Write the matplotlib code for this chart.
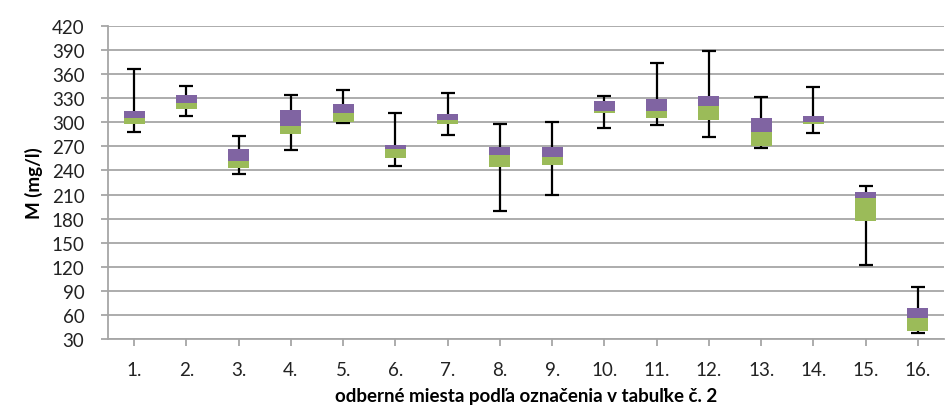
import numpy as np
import matplotlib.pyplot as plt

# odberné miesta 1.-16.
sites = ["1.", "2.", "3.", "4.", "5.", "6.", "7.", "8.",
         "9.", "10.", "11.", "12.", "13.", "14.", "15.", "16."]
v_min = [288, 308, 235, 265, 299, 245, 284, 190, 210, 293, 297, 282, 268, 287, 122, 38]
q1 = [298, 316, 243, 285, 300, 256, 298, 244, 247, 312, 305, 303, 271, 298, 177, 40]
median = [305, 324, 252, 295, 312, 267, 303, 259, 257, 314, 314, 320, 288, 300, 206, 56]
q3 = [314, 334, 267, 315, 323, 272, 310, 269, 269, 326, 329, 333, 305, 308, 213, 69]
v_max = [367, 345, 283, 334, 340, 312, 337, 298, 300, 333, 374, 389, 332, 344, 221, 95]

plt.rcParams['font.family'] = ['Lato', 'DejaVu Sans']

fig = plt.figure(figsize=(9.52, 4.10), dpi=100)
ax = fig.add_axes([108 / 952, 1 - 340 / 410, (944 - 108) / 952, (340 - 27) / 410])

x = np.arange(1, len(sites) + 1)
q1 = np.array(q1)
median = np.array(median)
q3 = np.array(q3)
v_min = np.array(v_min)
v_max = np.array(v_max)

# whiskers (min-max) behind the boxes
center = (v_min + v_max) / 2
ax.errorbar(x, center, yerr=[center - v_min, v_max - center], fmt='none',
            ecolor='black', elinewidth=1.6, capsize=5, capthick=1.6, zorder=2)

# box: green lower part, purple upper part
ax.bar(x, median - q1, bottom=q1, width=0.4, color='#9BBB59', zorder=3)
ax.bar(x, q3 - median, bottom=median, width=0.4, color='#8064A2', zorder=3)

ax.set_xlim(0.5, 16.5)
ax.set_ylim(30, 420)
ax.set_yticks(np.arange(30, 421, 30))
ax.set_xticks(x)
ax.set_xticklabels(sites)

ax.grid(axis='y', color='#A6A6A6', linewidth=1.3, zorder=0)
ax.set_axisbelow(True)
for side in ['top', 'right']:
    ax.spines[side].set_visible(False)
for side in ['left', 'bottom']:
    ax.spines[side].set_color('#A6A6A6')
    ax.spines[side].set_linewidth(1.3)
ax.tick_params(axis='both', colors='#A6A6A6', length=5, width=1.3, labelsize=13.5,
               labelcolor='#222222')
ax.tick_params(axis='y', pad=12)
ax.tick_params(axis='x', pad=11)

ax.set_ylabel("M (mg/l)", fontsize=13.5, fontweight='bold', labelpad=6)
ax.set_xlabel("odberné miesta podľa označenia v tabuľke č. 2", fontsize=13.5,
              fontweight='bold', labelpad=6)

fig.savefig("out.png", dpi=100)
